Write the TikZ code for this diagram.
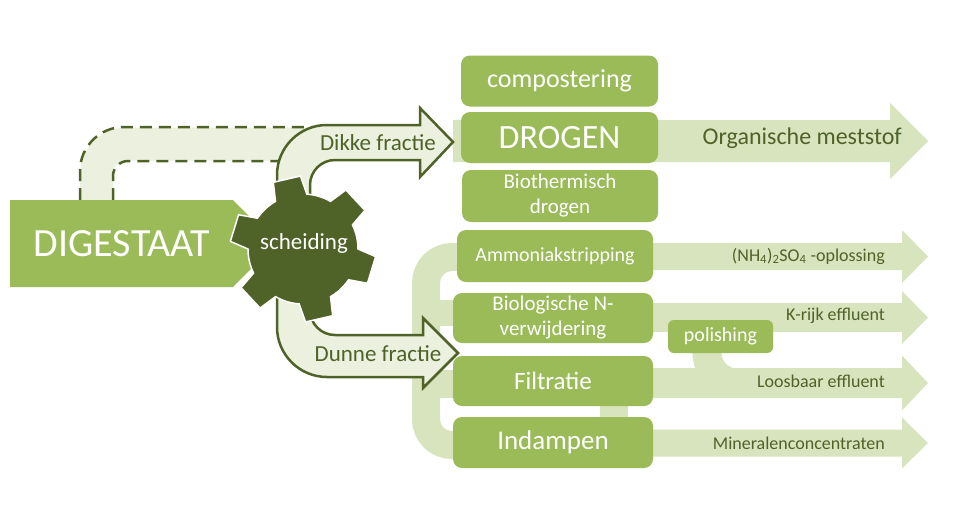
\documentclass[tikz,border=0pt]{standalone}
\usepackage{fontspec}
\setmainfont{Carlito}
\usetikzlibrary{calc,backgrounds}

\definecolor{boxgreen}{HTML}{9BBB59}
\definecolor{darkgreen}{HTML}{4F6228}
\definecolor{lightband}{HTML}{D7E4BD}
\definecolor{paleband}{HTML}{EBF1DE}

\newcommand\fsz[1]{\fontsize{#1}{#1}\selectfont}

% flat output arrow: start, tip, half body, half head, head length
\newcommand\fatarrow[5]{%
  \fill[lightband] let \p1=(#1), \p2=(#2) in
    (\x1,\y2+#3pt) -- (\x2-#5pt,\y2+#3pt) -- (\x2-#5pt,\y2+#4pt) -- (\p2)
    -- (\x2-#5pt,\y2-#4pt) -- (\x2-#5pt,\y2-#3pt) -- (\x1,\y2-#3pt) -- cycle;}

\tikzset{
  stepbox/.style={fill=boxgreen,rounded corners=9pt,text=white,inner sep=0pt,align=center},
  outlabel/.style={text=darkgreen,anchor=east,inner sep=0pt,font=\fsz{18}},
  fraclabel/.style={text=darkgreen,inner sep=0pt,font=\fsz{23}},
  fracarrow/.style={fill=paleband,draw=darkgreen,line width=2.5pt,line join=miter},
  loopband/.style={draw=lightband,line width=28pt,rounded corners=26pt},
  dashedge/.style={draw=darkgreen,line width=2.5pt,dash pattern=on 12pt off 7pt},
}

\begin{document}
\begin{tikzpicture}[x=1pt,y=-1pt]
\useasboundingbox (0,0) rectangle (960,520);

% process steps
\node[stepbox,minimum width=197pt,minimum height=51pt,font=\fsz{26}] (compost) at (559.5,81) {compostering};
\node[stepbox,minimum width=197pt,minimum height=51pt,font=\fsz{34}] (drogen) at (559.5,137.5) {DROGEN};
\node[stepbox,minimum width=196pt,minimum height=52pt,font=\fontsize{21}{25}\selectfont] (biotherm) at (560,196) {Biothermisch\\drogen};
\node[stepbox,minimum width=196pt,minimum height=52pt,font=\fsz{20}] (amm) at (555,256) {Ammoniakstripping};
\node[stepbox,minimum width=200pt,minimum height=50pt,font=\fontsize{21}{25}\selectfont] (biol) at (553,318) {Biologische N-\\verwijdering};
\node[stepbox,minimum width=200pt,minimum height=50pt,font=\fsz{25}] (filt) at (553,381) {Filtratie};
\node[stepbox,minimum width=200pt,minimum height=51pt,font=\fsz{27}] (indamp) at (553,442.5) {Indampen};
\node[stepbox,minimum width=105pt,minimum height=33pt,rounded corners=6pt,font=\fsz{20}] (polish) at (720.5,336.5) {polishing};

\coordinate (dtip) at (453,142);
\coordinate (ntip) at (458,353);
\coordinate (oorg) at (928,141);
\coordinate (o1) at (928,256.5);
\coordinate (o2) at (928,317.5);
\coordinate (o3) at (928,383);
\coordinate (o4) at (928,443);

\begin{scope}[on background layer]
  % old route, dashed
  \draw[paleband,line width=33pt,rounded corners=30pt] (96.5,205) |- (320,144);
  \draw[dashedge,rounded corners=44pt] (80,200) |- (330,127);
  \draw[dashedge,rounded corners=15pt] (113,200) |- (290,161);
  % products
  \fatarrow{dtip}{oorg}{21}{38}{38}
  \fatarrow{amm.center}{o1}{13.5}{26.5}{26}
  \fatarrow{biol.center}{o2}{14.5}{26.5}{26}
  \fatarrow{filt.center}{o3}{15}{27.5}{26}
  \fatarrow{indamp.center}{o4}{13.5}{25.5}{26}
  % loop on the left
  \draw[loopband] (480,257) -- (426,257) -- (426,445) -- (480,445);
  \draw[loopband,line width=26pt,rounded corners=14pt] (426,290) |- (470,313);
  \draw[loopband,rounded corners=14pt] (426,350) |- (470,384);
  \draw[loopband,rounded corners=0pt] (614,395) -- (614,430);
  \draw[loopband,line width=29pt,rounded corners=30pt] (707,345) |- (760,383);
\end{scope}

% fractions
\filldraw[fracarrow] (277,225) -- (277,175) arc[start angle=180,end angle=270,radius=50]
  -- (420,125) -- (420,108) -- (dtip) -- (420,177) -- (420,160) -- (335,160)
  arc[start angle=270,end angle=180,radius=25] -- (310,225) -- cycle;
\filldraw[fracarrow] (277,265) -- (277,327) arc[start angle=180,end angle=90,radius=50]
  -- (423,377) -- (423,388) -- (ntip) -- (423,318) -- (423,335) -- (335,335)
  arc[start angle=90,end angle=180,radius=25] -- (310,265) -- cycle;
\node[fraclabel] (dikke) at (378,143) {Dikke fractie};
\node[fraclabel] (dunne) at (378,354) {Dunne fractie};

% input
\fill[boxgreen] (10,200) -- (233,200) -- (276,243.5) -- (233,287) -- (10,287) -- cycle;
\node[text=white,font=\fsz{40},inner sep=0pt] (dig) at (122,243.5) {DIGESTAAT};

% separation
\coordinate (gc) at (303,249);
\filldraw[fill=darkgreen,draw=white,line width=1.5pt,shift={(gc)}] (86:55pt)
  \foreach \a in {103,163,...,403} {
    -- (\a-17:55pt) -- (\a-11:73pt) -- (\a+11:73pt) -- (\a+17:55pt)
    arc[start angle=\a+17,end angle=\a+43,radius=55pt]
  } -- cycle;
\node[text=white,font=\fsz{23},inner sep=0pt] (sched) at (304,243) {scheiding};

% product labels
\node[outlabel,font=\fsz{24}] (orgl) at (902,138) {Organische meststof};
\node[outlabel] (l1) at (885,256) {(NH\textsubscript{4})\textsubscript{2}SO\textsubscript{4} -oplossing};
\node[outlabel] (l2) at (885,316) {K-rijk effluent};
\node[outlabel] (l3) at (885,381) {Loosbaar effluent};
\node[outlabel] (l4) at (885,443) {Mineralenconcentraten};
\end{tikzpicture}
\end{document}
